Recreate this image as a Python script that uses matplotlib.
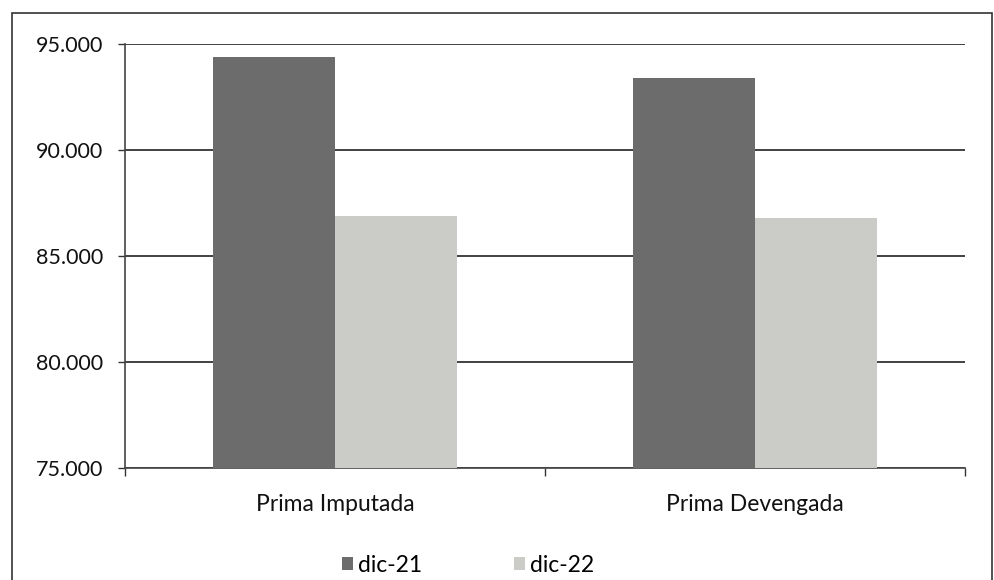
import matplotlib
matplotlib.use("Agg")
import matplotlib.pyplot as plt
from matplotlib.patches import Rectangle
import numpy as np

categories = ["Prima Imputada", "Prima Devengada"]
series_names = ["dic-21", "dic-22"]
dic21 = [94400, 93400]
dic22 = [86900, 86800]
yticks = [75000, 80000, 85000, 90000, 95000]
ytick_labels = ["75.000", "80.000", "85.000", "90.000", "95.000"]

plt.rcParams['font.family'] = ['Lato', 'DejaVu Sans']

fig = plt.figure(figsize=(9.95, 5.8), dpi=100)
W, H = 995, 580
ax = fig.add_axes([125 / W, 1 - 468 / H, (965 - 125) / W, (468 - 44) / H])

# outer frame
fig.patches.append(Rectangle((12 / W, -0.05), (992 - 12) / W, 1 - 13 / H + 0.05,
                             transform=fig.transFigure, fill=False,
                             edgecolor="#333333", linewidth=1.2))

x = np.arange(len(categories))
bw = 0.29
b1 = ax.bar(x - bw / 2, dic21, width=bw, color="#6c6c6c", label=series_names[0], zorder=3)
b2 = ax.bar(x + bw / 2, dic22, width=bw, color="#cbcbc7", label=series_names[1], zorder=3)

ax.set_xlim(-0.5, 1.5)
ax.set_ylim(75000, 95000)
ax.set_yticks(yticks)
ax.set_yticklabels(ytick_labels, fontsize=15.5, color="#111111")
ax.set_xticks(x)
ax.set_xticklabels(categories, fontsize=16.5, color="#111111")
ax.tick_params(axis="x", length=0, pad=19)
ax.tick_params(axis="y", length=5, width=1, color="#333333", pad=11)
ax.set_xticks([-0.5, 0.5, 1.5], minor=True)
ax.tick_params(axis="x", which="minor", length=6, width=1, color="#333333")

ax.yaxis.grid(True, color="#333333", linewidth=1.3, zorder=0)
ax.set_axisbelow(True)
for s in ["top", "right"]:
    ax.spines[s].set_visible(False)
ax.spines["left"].set_color("#444444")
ax.spines["bottom"].set_color("#444444")
ax.spines["left"].set_linewidth(1.2)
ax.spines["bottom"].set_linewidth(1.2)

leg = fig.legend(handles=[b1, b2], labels=series_names, loc="center",
                 bbox_to_anchor=(468 / W, 1 - 565 / H), ncol=2, frameon=False,
                 fontsize=16.5, handlelength=0.5, handleheight=0.5,
                 handletextpad=0.2, columnspacing=4.0)

fig.savefig("out.png", dpi=100, facecolor="white")
